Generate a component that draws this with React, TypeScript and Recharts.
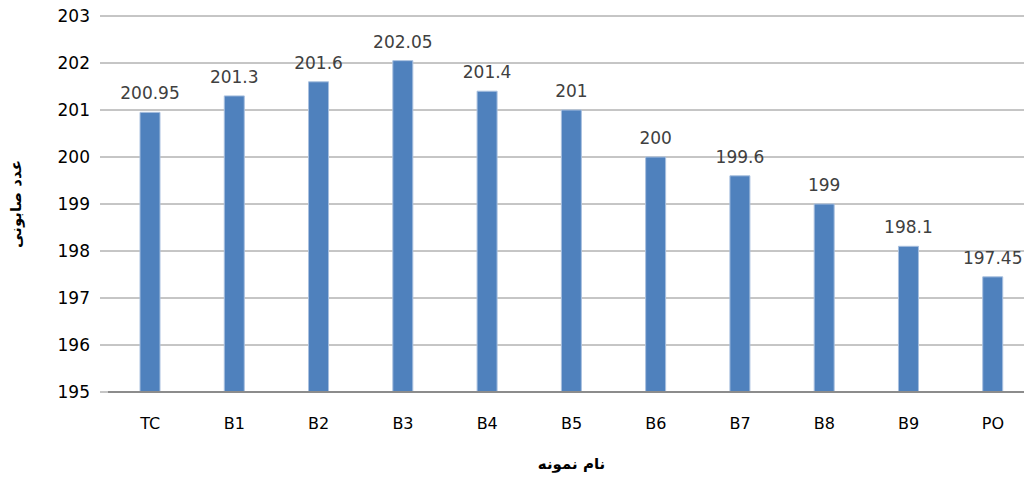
import React from "react";
import { BarChart, Bar, XAxis, YAxis, CartesianGrid, LabelList, Label } from "recharts";

const categories = ["TC", "B1", "B2", "B3", "B4", "B5", "B6", "B7", "B8", "B9", "PO"];
const values = [200.95, 201.3, 201.6, 202.05, 201.4, 201, 200, 199.6, 199, 198.1, 197.45];
const yTicks = [195, 196, 197, 198, 199, 200, 201, 202, 203];
const yTitle = "عدد صابونی";
const xTitle = "نام نمونه";

const data = categories.map((c, i) => ({ name: c, value: values[i] }));

export default function App() {
  return (
    <div style={{ position: "absolute", left: 0, top: 0, width: 1024, height: 477, overflow: "hidden", background: "#fff" }}>
      <BarChart
        width={1045}
        height={477}
        data={data}
        margin={{ top: 16, right: 10, bottom: 0, left: 8 }}
        barCategoryGap={0}
      >
        <CartesianGrid vertical={false} stroke="#8c8c8c" strokeWidth={1} />
        <XAxis
          dataKey="name"
          tickLine={false}
          axisLine={{ stroke: "#8c8c8c", strokeWidth: 2 }}
          tick={{ fill: "#000", fontSize: 16, fontFamily: "DejaVu Sans" }}
          tickMargin={20}
          height={85}
        >
          <Label value={xTitle} position="insideBottom" offset={8} style={{ fill: "#000", fontSize: 15, fontWeight: "bold", fontFamily: "DejaVu Sans" }} />
        </XAxis>
        <YAxis
          domain={[195, 203]}
          ticks={yTicks}
          interval={0}
          axisLine={false}
          tickLine={{ stroke: "#8c8c8c" }}
          tickSize={8}
          tickMargin={10}
          width={100}
          tick={{ fill: "#000", fontSize: 17, fontFamily: "DejaVu Sans" }}
        >
          <Label value={yTitle} angle={-90} position="insideLeft" offset={8} style={{ fill: "#000", fontSize: 15, fontWeight: "bold", fontFamily: "DejaVu Sans", textAnchor: "middle" }} />
        </YAxis>
        <Bar dataKey="value" fill="#4F81BD" stroke="#a9c0df" strokeWidth={1} barSize={20} isAnimationActive={false}>
          <LabelList dataKey="value" position="top" offset={13} style={{ fill: "#404040", fontSize: 17, fontFamily: "DejaVu Sans" }} />
        </Bar>
      </BarChart>
    </div>
  );
}
